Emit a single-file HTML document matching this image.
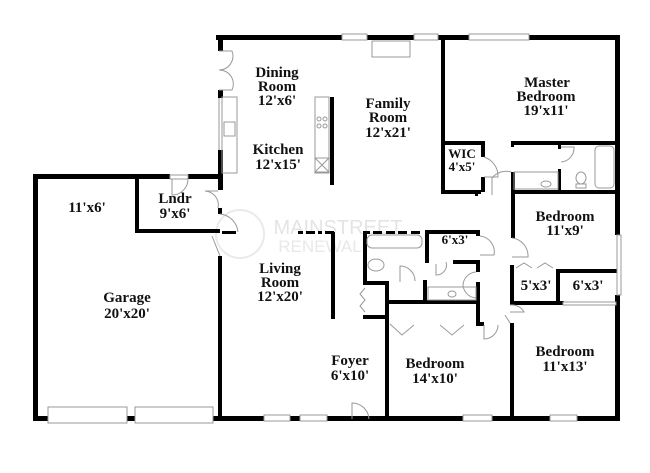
<!DOCTYPE html>
<html><head><style>
html,body{margin:0;padding:0;background:#fff;width:650px;height:473px;overflow:hidden}
text{font-family:"Liberation Serif",serif;font-weight:bold;font-size:15px;fill:#111;text-anchor:middle}
</style></head><body>
<svg width="650" height="473" viewBox="0 0 650 473" xmlns="http://www.w3.org/2000/svg">
<rect width="650" height="473" fill="#fff"/>
<g opacity="0.12" fill="none" stroke="#555" stroke-width="2">
<circle cx="240" cy="234" r="24"/>
</g>
<text x="338" y="234" style="font-family:'Liberation Sans',sans-serif;font-weight:normal;font-size:20px;fill:#e4e4e4">MAINSTREET</text>
<text x="320" y="252" style="font-family:'Liberation Sans',sans-serif;font-weight:normal;font-size:17px;fill:#e8e8e8">RENEWAL</text>

<g fill="#000">
<rect x="216" y="35" width="404" height="5"/>
<rect x="615" y="35" width="5" height="200"/>
<rect x="615" y="295" width="5" height="126"/>
<rect x="33" y="416" width="587" height="5"/>
<rect x="33" y="174" width="5" height="247"/>
<rect x="33" y="174" width="137" height="5"/>
<rect x="188" y="174" width="35" height="5"/>
<rect x="218" y="35" width="5" height="16"/>
<rect x="218" y="90" width="5" height="8"/>
<rect x="218" y="150" width="5" height="40"/>
<rect x="218" y="208" width="4" height="6"/>
<rect x="218" y="256" width="4" height="162"/>
<rect x="135" y="176" width="4" height="57"/>
<rect x="135" y="229" width="85" height="4"/>
<rect x="222" y="231" width="14" height="3"/>
<rect x="298" y="231" width="5" height="3"/><rect x="306" y="231" width="9" height="3"/><rect x="318" y="231" width="4" height="3"/><rect x="325" y="231" width="9" height="3"/>
<rect x="365" y="231" width="5" height="3"/><rect x="373" y="231" width="9" height="3"/><rect x="386" y="231" width="9" height="3"/><rect x="398" y="231" width="9" height="3"/><rect x="411" y="231" width="9" height="3"/>
<rect x="425" y="230" width="55" height="4"/>
<rect x="330" y="97" width="4" height="88"/>
<rect x="331" y="232" width="4" height="87"/>
<rect x="441" y="37" width="4" height="157"/>
<rect x="441" y="141" width="42" height="4"/>
<rect x="481" y="141" width="4" height="16"/>
<rect x="481" y="177" width="4" height="15"/>
<rect x="441" y="190" width="40" height="4"/>
<rect x="475" y="190" width="3" height="6"/>
<rect x="511" y="141" width="107" height="4"/>
<rect x="511" y="141" width="3" height="6"/>
<rect x="511" y="172" width="4" height="66"/>
<rect x="511" y="190" width="107" height="4"/>
<rect x="558" y="143" width="3" height="6"/>
<rect x="558" y="169" width="3" height="23"/>
<rect x="510" y="265" width="4" height="40"/>
<rect x="510" y="323" width="4" height="95"/>
<rect x="510" y="301" width="54" height="4"/>
<rect x="556" y="270" width="4" height="35"/>
<rect x="556" y="269" width="62" height="4"/>
<rect x="363" y="231" width="4" height="52"/>
<rect x="363" y="281" width="26" height="4"/>
<rect x="385" y="281" width="4" height="137"/>
<rect x="363" y="315" width="24" height="4"/>
<rect x="385" y="300" width="95" height="4"/>
<rect x="423" y="280" width="4" height="22"/>
<rect x="425" y="231" width="4" height="32"/>
<rect x="453" y="260" width="27" height="4"/>
<rect x="476" y="260" width="4" height="12"/>
<rect x="476" y="282" width="4" height="44"/>
<rect x="476" y="322" width="8" height="4"/>
<rect x="476" y="230" width="4" height="6"/>
</g>

<g fill="none" stroke="#999" stroke-width="1">
<rect x="342" y="34" width="25" height="6" fill="#fff"/>
<rect x="414" y="34" width="24" height="6" fill="#fff"/>
<rect x="469" y="34" width="60" height="6" fill="#fff"/>
<rect x="372" y="41" width="38" height="16" fill="#fff"/>
<rect x="222" y="97" width="15" height="76"/>
<rect x="224" y="122" width="11" height="14"/>
<line x1="219" y1="98" x2="219" y2="150"/><line x1="222" y1="98" x2="222" y2="150"/>
<rect x="315" y="97" width="14" height="76"/>
<circle cx="319" cy="119" r="2"/><circle cx="325" cy="119" r="2"/><circle cx="319" cy="126" r="2"/><circle cx="325" cy="126" r="2"/>
<rect x="315" y="158" width="14" height="14"/><line x1="315" y1="158" x2="329" y2="172"/><line x1="329" y1="158" x2="315" y2="172"/>
<path d="M219 51 H232 A14 14 0 0 1 219 70"/><path d="M219 90 H232 A14 14 0 0 0 219 70"/>
<rect x="170" y="175" width="18" height="4" fill="#fff"/>
<path d="M172 179 V195 A16 16 0 0 0 188 179"/>
<path d="M218 191 H205 A14 14 0 0 1 218 208"/>
<path d="M220 214 A20 20 0 0 1 238 232"/>
<path d="M220 256 L212 236"/>
<rect x="48" y="407" width="79" height="16" fill="#fff"/>
<rect x="135" y="407" width="78" height="16" fill="#fff"/>
<rect x="264" y="415" width="26" height="6" fill="#fff"/>
<rect x="300" y="415" width="27" height="6" fill="#fff"/>
<rect x="463" y="415" width="29" height="6" fill="#fff"/>
<rect x="550" y="415" width="27" height="6" fill="#fff"/>
<rect x="617" y="235" width="4" height="60" fill="#fff"/>
<rect x="563" y="302" width="53" height="3" fill="#fff"/>
<path d="M352 419 V403 A17 17 0 0 1 369 419"/>
<path d="M484 157 A20 20 0 0 1 498 177 H484"/>
<path d="M511 172 A18 18 0 0 0 492 178 V195"/>
<path d="M561 147 H574 A14 14 0 0 1 561 162"/>
<rect x="514" y="172" width="44" height="17"/>
<ellipse cx="546" cy="184" rx="5" ry="3"/>
<rect x="595" y="146" width="19" height="42" rx="4"/>
<ellipse cx="581" cy="178" rx="5" ry="6"/><rect x="576" y="184" width="10" height="4"/>
<path d="M512 238 A18 18 0 0 1 528 257 H512"/>
<rect x="367" y="235" width="55" height="13" rx="5"/>
<ellipse cx="376" cy="265" rx="8" ry="6"/>
<path d="M400 282 V266 A15 15 0 0 1 415 281"/>
<rect x="428" y="287" width="48" height="13"/>
<ellipse cx="452" cy="294" rx="4" ry="3"/>
<path d="M480 236 A16 16 0 0 1 494 255 H480"/>
<path d="M436 264 V275 A10 10 0 0 0 446 262"/>
<path d="M476 272 A14 14 0 0 0 463 285 A14 14 0 0 0 476 298"/>
<path d="M365 288 L360 294 L365 300 L360 306 L365 312"/>
<path d="M390 324 L402 335 L414 325"/><path d="M440 325 L452 335 L464 325"/>
<path d="M484 325 L484 339 A14 14 0 0 0 498 325"/>
<path d="M516 268 L524 263 L532 268"/><path d="M537 268 L545 263 L553 268"/>
<path d="M510 305 A14 14 0 0 1 524 312 H510"/>
<path d="M510 323 L505 315"/>
</g>

<text x="277" y="77">Dining</text><text x="277" y="91">Room</text><text x="277" y="105">12'x6'</text>
<text x="388" y="108">Family</text><text x="388" y="122">Room</text><text x="388" y="137">12'x21'</text>
<text x="278" y="154">Kitchen</text><text x="278" y="169">12'x15'</text>
<text x="547" y="87">Master</text><text x="546" y="101">Bedroom</text><text x="546" y="115">19'x11'</text>
<text x="462" y="158" style="font-size:13px">WIC</text><text x="462" y="171" style="font-size:13px">4'x5'</text>
<text x="565" y="221">Bedroom</text><text x="565" y="235">11'x9'</text>
<text x="455" y="244" style="font-size:13px">6'x3'</text>
<text x="280" y="273">Living</text><text x="280" y="287">Room</text><text x="280" y="301">12'x20'</text>
<text x="536" y="290">5'x3'</text><text x="588" y="290">6'x3'</text>
<text x="350" y="365">Foyer</text><text x="350" y="380">6'x10'</text>
<text x="435" y="368">Bedroom</text><text x="435" y="383">14'x10'</text>
<text x="565" y="356">Bedroom</text><text x="565" y="371">11'x13'</text>
<text x="175" y="203">Lndr</text><text x="175" y="218">9'x6'</text>
<text x="87" y="212">11'x6'</text>
<text x="127" y="302">Garage</text><text x="127" y="318">20'x20'</text>
</svg>
</body></html>
